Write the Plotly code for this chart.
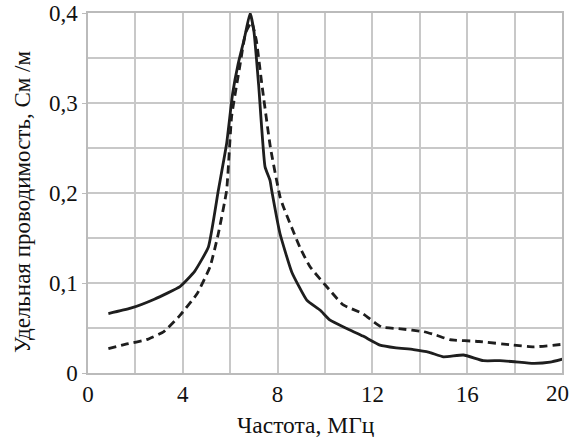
import plotly.graph_objects as go

# Solid curve
freq_solid = [0.86, 1.8, 2.8, 3.88, 4.5, 5.08, 5.5, 5.85, 6.1, 6.34, 6.6, 6.84, 7.0, 7.2, 7.47, 7.68, 7.75, 8.1, 8.6, 9.23, 9.79, 10.2, 10.9, 11.6, 12.32, 13.0, 13.73, 14.4, 15.0, 15.84, 16.68, 17.38, 18.0, 18.79, 19.5, 20.05]
cond_solid = [0.066, 0.072, 0.082, 0.096, 0.113, 0.140, 0.203, 0.255, 0.310, 0.344, 0.372, 0.400, 0.380, 0.320, 0.229, 0.214, 0.203, 0.155, 0.112, 0.081, 0.070, 0.059, 0.0496, 0.041, 0.031, 0.028, 0.026, 0.023, 0.018, 0.020, 0.0137, 0.0137, 0.0125, 0.0107, 0.012, 0.0156]

# Dashed curve
freq_dash = [0.86, 1.6, 2.47, 3.2, 3.88, 4.6, 5.15, 5.5, 5.85, 6.06, 6.4, 6.65, 6.9, 7.1, 7.33, 7.7, 8.1, 8.24, 8.95, 9.37, 10.2, 10.77, 11.6, 12.0, 12.39, 13.2, 14.15, 14.7, 15.27, 16.5, 17.95, 18.8, 20.05]
cond_dash = [0.027, 0.032, 0.037, 0.046, 0.064, 0.088, 0.118, 0.155, 0.203, 0.285, 0.340, 0.378, 0.390, 0.370, 0.322, 0.250, 0.196, 0.185, 0.139, 0.118, 0.092, 0.0756, 0.066, 0.058, 0.051, 0.049, 0.046, 0.042, 0.037, 0.035, 0.031, 0.029, 0.032]

x_ticks = [0, 4, 8, 12, 16, 20]
x_ticktext = ["0", "4", "8", "12", "16", ""]
x_last_label = "20"
y_ticks = [0, 0.1, 0.2, 0.3, 0.4]
y_ticktext = ["0", "0,1", "0,2", "0,3", "0,4"]
x_title = "Частота, МГц"
y_title = "Удельная проводимость, См /м"

fig = go.Figure()
fig.add_trace(go.Scatter(x=freq_solid, y=cond_solid, mode="lines", cliponaxis=False,
                         line=dict(color="#1e1e1e", width=2.8, shape="spline", smoothing=0.4)))
fig.add_trace(go.Scatter(x=freq_dash, y=cond_dash, mode="lines", cliponaxis=False,
                         line=dict(color="#1e1e1e", width=2.8, dash="8px,5px", shape="spline", smoothing=0.4)))

font = "Liberation Serif, Times New Roman, serif"
grid = "#c8c8c8"
fig.update_layout(
    width=571, height=437,
    margin=dict(l=88, r=9, t=13, b=64, autoexpand=False),
    paper_bgcolor="white", plot_bgcolor="white",
    showlegend=False,
    font=dict(family=font, size=23, color="#111111"),
    xaxis=dict(range=[0, 20], tickvals=x_ticks, ticktext=x_ticktext, showgrid=True, gridcolor=grid, gridwidth=1.5,
               minor=dict(dtick=2, tick0=0, showgrid=True, gridcolor=grid, gridwidth=1.5),
               showline=True, linecolor="#bbbbbb", linewidth=1.5, mirror=True, automargin=False,
               ticklabeloverflow="allow",
               zeroline=False, ticks="", tickfont=dict(family=font, size=23)),
    yaxis=dict(range=[0, 0.4], tickvals=y_ticks, ticktext=y_ticktext, showgrid=True, gridcolor=grid, gridwidth=1.5,
               minor=dict(dtick=0.05, tick0=0, showgrid=True, gridcolor=grid, gridwidth=1.5),
               showline=True, linecolor="#bbbbbb", linewidth=1.5, mirror=True, automargin=False,
               ticklabeloverflow="allow",
               zeroline=False, ticks="outside", ticklen=4, tickcolor="#bbbbbb", tickfont=dict(family=font, size=23)),
    annotations=[
        dict(text=x_last_label, xref="x", yref="paper", x=x_ticks[-1], y=-0.0556, xshift=-4.5,
             xanchor="center", yanchor="middle", showarrow=False, font=dict(family=font, size=23)),
        dict(text=x_title, xref="paper", yref="paper", x=0.46, y=-0.144, xanchor="center", yanchor="middle",
             showarrow=False, font=dict(family=font, size=23.5)),
        dict(text=y_title, xref="paper", yref="paper", x=-0.139, y=0.475, xanchor="center", yanchor="middle",
             textangle=-90, showarrow=False, font=dict(family=font, size=23)),
    ],
)

fig.write_html("out.html")
